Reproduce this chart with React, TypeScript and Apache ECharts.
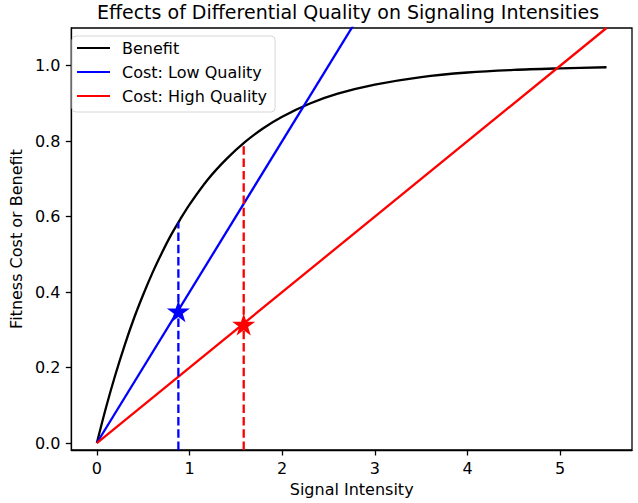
import React, { useEffect, useRef } from "react";
import * as echarts from "echarts";

const benefitX = [0, 0.1, 0.2, 0.3, 0.4, 0.5, 0.6, 0.7, 0.8, 0.9, 1.0, 1.2, 1.4, 1.6, 1.8, 2.0, 2.3, 2.6, 3.0, 3.5, 4.0, 4.5, 5.0, 5.5];
const benefitY = [0, 0.095, 0.181, 0.259, 0.33, 0.393, 0.451, 0.503, 0.551, 0.593, 0.632, 0.699, 0.753, 0.798, 0.835, 0.865, 0.9, 0.926, 0.95, 0.97, 0.982, 0.989, 0.993, 0.996];
const lowCostX = [0, 5.5];
const lowCostY = [0, 2.2];
const highCostX = [0, 5.5];
const highCostY = [0, 1.1];
const lowOptimum = { x: 0.88, cost: 0.352, benefit: 0.585 };
const highOptimum = { x: 1.585, cost: 0.317, benefit: 0.795 };
const xTicks = [0, 1, 2, 3, 4, 5];
const yTicks = [0, 0.2, 0.4, 0.6, 0.8, 1.0];
const X_MIN = -0.275;
const X_MAX = 5.775;
const Y_MIN = -0.0185;
const Y_MAX = 1.1;

const STAR =
  "path://M0,-1 L0.2245,-0.309 L0.951,-0.309 L0.363,0.118 L0.588,0.809 L0,0.382 L-0.588,0.809 L-0.363,0.118 L-0.951,-0.309 L-0.2245,-0.309 Z";

const FONT = "DejaVu Sans";

const zip = (xs: number[], ys: number[]) => xs.map((x, i) => [x, ys[i]]);

export default function App() {
  const ref = useRef<HTMLDivElement>(null);
  useEffect(() => {
    if (!ref.current) return;
    const chart = echarts.init(ref.current, null, { renderer: "svg" });
    chart.setOption({
      animation: false,
      backgroundColor: "#ffffff",
      title: {
        text: "Effects of Differential Quality on Signaling Intensities",
        left: 348,
        top: 2,
        padding: 0,
        textAlign: "center",
        textStyle: { fontFamily: FONT, fontSize: 19, fontWeight: "normal", color: "#000" },
      },
      grid: {
        left: 64,
        right: 6,
        top: 28,
        bottom: 53,
        show: true,
        borderColor: "#000",
        borderWidth: 1.3,
        backgroundColor: "transparent",
      },
      legend: {
        orient: "vertical",
        left: 72,
        top: 36,
        data: ["Benefit", "Cost: Low Quality", "Cost: High Quality"],
        icon: "rect",
        itemWidth: 33,
        itemHeight: 2,
        itemGap: 8,
        padding: [4, 8, 8, 5],
        borderColor: "#d6d6d6",
        borderWidth: 1,
        borderRadius: 4,
        backgroundColor: "rgba(255,255,255,0.8)",
        textStyle: { fontFamily: FONT, fontSize: 16, color: "#000", padding: [0, 0, 0, 7] },
      },
      xAxis: {
        type: "value",
        min: X_MIN,
        max: X_MAX,
        name: "Signal Intensity",
        nameLocation: "middle",
        nameGap: 31,
        nameTextStyle: { fontFamily: FONT, fontSize: 16, color: "#000" },
        axisLine: { show: true, onZero: false, lineStyle: { color: "#000", width: 1.3 } },
        axisTick: { show: true, length: 5.5, customValues: xTicks, lineStyle: { color: "#000", width: 1.3 } },
        axisLabel: { customValues: xTicks, margin: 10, fontFamily: FONT, fontSize: 16, color: "#000" },
        splitLine: { show: false },
      },
      yAxis: {
        type: "value",
        min: Y_MIN,
        max: Y_MAX,
        name: "Fitness Cost or Benefit",
        nameLocation: "middle",
        nameGap: 47,
        nameTextStyle: { fontFamily: FONT, fontSize: 16, color: "#000" },
        axisLine: { show: true, onZero: false, lineStyle: { color: "#000", width: 1.3 } },
        axisTick: { show: true, length: 5.5, customValues: yTicks, lineStyle: { color: "#000", width: 1.3 } },
        axisLabel: {
          customValues: yTicks,
          margin: 11,
          fontFamily: FONT,
          fontSize: 16,
          color: "#000",
          formatter: (v: number) => v.toFixed(1),
        },
        splitLine: { show: false },
      },
      series: [
        {
          name: "Benefit",
          type: "line",
          data: zip(benefitX, benefitY),
          symbol: "none",
          smooth: 0.3,
          lineStyle: { color: "#000", width: 2.3 },
          itemStyle: { color: "#000" },
        },
        {
          name: "Cost: Low Quality",
          type: "line",
          data: zip(lowCostX, lowCostY),
          symbol: "none",
          lineStyle: { color: "#0000ff", width: 2.3 },
          itemStyle: { color: "#0000ff" },
        },
        {
          name: "Cost: High Quality",
          type: "line",
          data: zip(highCostX, highCostY),
          symbol: "none",
          lineStyle: { color: "#ff0000", width: 2.3 },
          itemStyle: { color: "#ff0000" },
        },
        {
          name: "lowDash",
          type: "line",
          data: [
            [lowOptimum.x, Y_MIN],
            [lowOptimum.x, lowOptimum.benefit],
          ],
          symbol: "none",
          lineStyle: { color: "#0000ff", width: 2.3, type: [8.5, 3.8] },
        },
        {
          name: "highDash",
          type: "line",
          data: [
            [highOptimum.x, Y_MIN],
            [highOptimum.x, highOptimum.benefit],
          ],
          symbol: "none",
          lineStyle: { color: "#ff0000", width: 2.3, type: [8.5, 3.8] },
        },
        {
          name: "lowStar",
          type: "scatter",
          data: [[lowOptimum.x, lowOptimum.cost]],
          symbol: STAR,
          symbolSize: [23, 22],
          symbolOffset: [0, 1],
          itemStyle: { color: "#0000ff", opacity: 1 },
          z: 5,
        },
        {
          name: "highStar",
          type: "scatter",
          data: [[highOptimum.x, highOptimum.cost]],
          symbol: STAR,
          symbolSize: [23, 22],
          symbolOffset: [0, 1],
          itemStyle: { color: "#ff0000", opacity: 1 },
          z: 5,
        },
      ],
    });
    return () => chart.dispose();
  }, []);
  return <div ref={ref} style={{ position: "fixed", left: 0, top: 0, width: 638, height: 503 }} />;
}
